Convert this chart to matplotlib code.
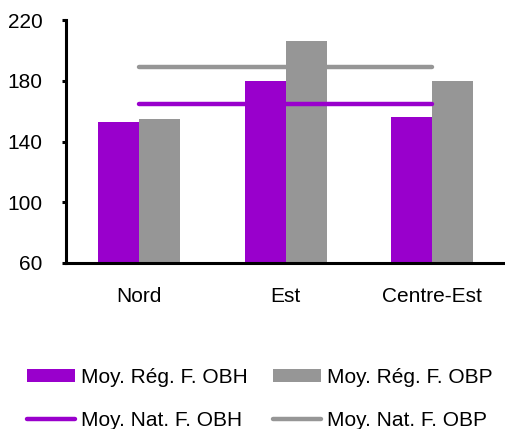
import numpy as np
import matplotlib.pyplot as plt
from matplotlib.patches import Patch
from matplotlib.lines import Line2D

plt.rcParams['font.family'] = ['Liberation Sans', 'DejaVu Sans']

# Data
regions = ['Nord', 'Est', 'Centre-Est']
reg_obh = [153, 180, 156]
reg_obp = [155, 206, 180]
nat_obh = 165
nat_obp = 189
yticks = [60, 100, 140, 180, 220]

purple = '#9900CC'
grey = '#969696'

fig = plt.figure(figsize=(5.05, 4.29), dpi=100)
ax = fig.add_axes([0.131, 0.387, 0.869, 0.566])

x = np.arange(len(regions))
w = 0.28
ax.bar(x - w / 2, np.array(reg_obh) - 60, w, bottom=60, color=purple, zorder=2)
ax.bar(x + w / 2, np.array(reg_obp) - 60, w, bottom=60, color=grey, zorder=2)
ax.plot([x[0], x[-1]], [nat_obh, nat_obh], color=purple, lw=3.2,
        solid_capstyle='round', zorder=3)
ax.plot([x[0], x[-1]], [nat_obp, nat_obp], color=grey, lw=3.2,
        solid_capstyle='round', zorder=3)

ax.set_xlim(-0.5, 2.5)
ax.set_ylim(60, 220)
ax.set_yticks(yticks)
ax.set_xticks(x)
ax.set_xticklabels(regions)

for s in ['top', 'right']:
    ax.spines[s].set_visible(False)
ax.spines['left'].set_linewidth(2.2)
ax.spines['bottom'].set_linewidth(2.2)
ax.tick_params(axis='y', direction='out', length=3, width=2.2, labelsize=15, pad=14)
ax.tick_params(axis='x', length=0, labelsize=15, pad=17)

handles = [
    Patch(facecolor=purple, label='Moy. Rég. F. OBH'),
    Line2D([], [], color=purple, lw=3.2, solid_capstyle='round', label='Moy. Nat. F. OBH'),
    Patch(facecolor=grey, label='Moy. Rég. F. OBP'),
    Line2D([], [], color=grey, lw=3.2, solid_capstyle='round', label='Moy. Nat. F. OBP'),
]
fig.legend(handles=handles, ncol=2, loc='center', bbox_to_anchor=(0.515, 0.07),
           frameon=False, fontsize=15, handlelength=2.3, handleheight=0.55,
           handletextpad=0.3, columnspacing=1.2, labelspacing=1.15)

fig.savefig('out.png', dpi=100)
